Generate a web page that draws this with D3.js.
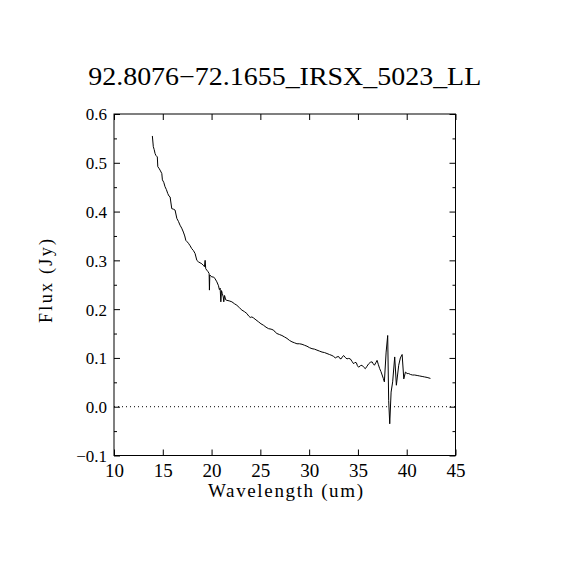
<!DOCTYPE html>
<html>
<head>
<meta charset="utf-8">
<script src="https://cdn.jsdelivr.net/npm/d3@7"></script>
<style>
  html, body { margin: 0; padding: 0; background: #fff; }
  svg { display: block; }
  text { font-family: "Liberation Serif", "DejaVu Serif", serif; fill: #000; }
</style>
</head>
<body>
<svg id="chart" width="570" height="570"></svg>
<script>
const titleText = "92.8076\u221272.1655_IRSX_5023_LL";
const xLabel = "Wavelength (um)";
const yLabel = "Flux (Jy)";
const xTicks = [10, 15, 20, 25, 30, 35, 40, 45];
const yTicks = [-0.1, 0.0, 0.1, 0.2, 0.3, 0.4, 0.5, 0.6];
const yMinorTicks = [-0.05, 0.05, 0.15, 0.25, 0.35, 0.45, 0.55];
const wavelength = [13.93, 14.03, 14.12, 14.21, 14.30, 14.44, 14.49, 14.60, 14.72, 14.90, 14.96, 15.10, 15.23, 15.37, 15.51, 15.63, 15.75, 15.92, 16.08, 16.26, 16.44, 16.60, 16.77, 16.94, 17.11, 17.25, 17.36, 17.50, 17.63, 17.80, 17.97, 18.14, 18.31, 18.49, 18.65, 18.82, 19.00, 19.15, 19.27, 19.34, 19.40, 19.51, 19.63, 19.75, 19.78, 19.82, 19.92, 20.03, 20.20, 20.37, 20.54, 20.71, 20.80, 20.88, 20.95, 21.02, 21.10, 21.20, 21.25, 21.33, 21.45, 21.57, 21.80, 22.08, 22.35, 22.59, 22.85, 23.11, 23.36, 23.62, 23.80, 23.96, 24.13, 24.30, 24.55, 24.81, 25.06, 25.32, 25.58, 25.84, 26.10, 26.35, 26.52, 26.70, 26.95, 27.21, 27.47, 27.73, 27.98, 28.24, 28.50, 28.75, 29.01, 29.27, 29.52, 29.78, 30.04, 30.29, 30.55, 30.80, 31.06, 31.32, 31.57, 31.83, 32.08, 32.34, 32.51, 32.68, 32.85, 33.02, 33.14, 33.27, 33.40, 33.53, 33.70, 33.88, 34.05, 34.22, 34.39, 34.56, 34.70, 34.84, 34.95, 35.07, 35.25, 35.42, 35.59, 35.76, 35.93, 36.10, 36.27, 36.45, 36.57, 36.69, 36.83, 36.96, 37.10, 37.23, 37.36, 37.48, 37.60, 37.71, 37.89, 38.05, 38.15, 38.26, 38.40, 38.56, 38.77, 38.94, 39.18, 39.35, 39.53, 39.70, 39.87, 40.04, 40.20, 40.40, 40.60, 40.82, 41.07, 41.33, 41.58, 41.84, 42.09, 42.43];
const flux = [0.555, 0.533, 0.527, 0.519, 0.515, 0.512, 0.492, 0.489, 0.485, 0.478, 0.465, 0.460, 0.451, 0.445, 0.437, 0.432, 0.430, 0.406, 0.405, 0.403, 0.386, 0.380, 0.372, 0.366, 0.358, 0.350, 0.341, 0.338, 0.335, 0.330, 0.324, 0.320, 0.314, 0.300, 0.297, 0.295, 0.293, 0.290, 0.287, 0.300, 0.283, 0.280, 0.277, 0.273, 0.239, 0.270, 0.268, 0.266, 0.266, 0.262, 0.256, 0.248, 0.240, 0.243, 0.215, 0.238, 0.232, 0.225, 0.215, 0.228, 0.219, 0.218, 0.217, 0.215, 0.211, 0.208, 0.203, 0.198, 0.195, 0.191, 0.186, 0.183, 0.184, 0.182, 0.178, 0.174, 0.170, 0.167, 0.163, 0.160, 0.159, 0.157, 0.153, 0.150, 0.148, 0.146, 0.143, 0.140, 0.136, 0.133, 0.131, 0.129, 0.129, 0.128, 0.126, 0.124, 0.121, 0.119, 0.118, 0.116, 0.114, 0.112, 0.111, 0.109, 0.107, 0.105, 0.103, 0.100, 0.102, 0.103, 0.099, 0.098, 0.102, 0.105, 0.101, 0.098, 0.099, 0.098, 0.093, 0.088, 0.091, 0.090, 0.084, 0.081, 0.084, 0.085, 0.081, 0.078, 0.083, 0.088, 0.091, 0.092, 0.088, 0.085, 0.090, 0.095, 0.086, 0.078, 0.072, 0.065, 0.058, 0.051, 0.112, 0.146, 0.013, -0.035, 0.030, 0.051, 0.102, 0.044, 0.085, 0.100, 0.107, 0.057, 0.071, 0.068, 0.068, 0.066, 0.065, 0.065, 0.064, 0.063, 0.062, 0.061, 0.060, 0.058];

const svg = d3.select("#chart");
const L = 114, R = 455.5, T = 114, B = 455.5;
const x = d3.scaleLinear().domain([10, 45]).range([L, R]);
const y = d3.scaleLinear().domain([-0.1, 0.6]).range([B, T]);

// zero dotted line
svg.append("line")
  .attr("x1", x(10)).attr("x2", x(45))
  .attr("y1", y(0)).attr("y2", y(0))
  .attr("stroke", "#000").attr("stroke-width", 1)
  .attr("stroke-dasharray", "1,3");

// spectrum
const pts = wavelength.map((w, i) => [w, flux[i]]);
svg.append("path")
  .datum(pts)
  .attr("fill", "none")
  .attr("stroke", "#000")
  .attr("stroke-width", 1)
  .attr("d", d3.line().x(d => x(d[0])).y(d => y(d[1])));

const tickAxis = (axis) => (g) => {
  g.call(axis);
  g.select(".domain").remove();
  g.selectAll("line").attr("stroke", "#000").attr("stroke-width", 1);
};

// bottom
svg.append("g").attr("transform", `translate(0,${B})`)
  .call(tickAxis(d3.axisBottom(x).tickValues(xTicks).tickSize(-6).tickFormat(d3.format("d"))))
  .selectAll("text").attr("dy", null).attr("y", 21).style("font-size", "19px").attr("font-family", null);
// top
svg.append("g").attr("transform", `translate(0,${T})`)
  .call(tickAxis(d3.axisTop(x).tickValues(xTicks).tickSize(-6).tickFormat("")));
// left major
svg.append("g").attr("transform", `translate(${L},0)`)
  .call(tickAxis(d3.axisLeft(y).tickValues(yTicks).tickSize(-6)
    .tickFormat(d => d3.format(".1f")(d).replace("-", "\u2212"))))
  .selectAll("text").attr("x", -7).attr("dy", "0.35em").style("font-size", "17px").attr("font-family", null);
// left minor
svg.append("g").attr("transform", `translate(${L},0)`)
  .call(tickAxis(d3.axisLeft(y).tickValues(yMinorTicks).tickSize(-3).tickFormat("")));
// right
svg.append("g").attr("transform", `translate(${R},0)`)
  .call(tickAxis(d3.axisRight(y).tickValues(yTicks).tickSize(-6).tickFormat("")));
svg.append("g").attr("transform", `translate(${R},0)`)
  .call(tickAxis(d3.axisRight(y).tickValues(yMinorTicks).tickSize(-3).tickFormat("")));

svg.selectAll(".tick text").attr("fill", "#000");

// frame
svg.append("rect")
  .attr("x", L).attr("y", T).attr("width", R - L).attr("height", B - T)
  .attr("fill", "none").attr("stroke", "#000").attr("stroke-width", 1);

// title
svg.append("text")
  .attr("x", (L + R) / 2).attr("y", 85)
  .attr("text-anchor", "middle")
  .style("font-size", "25px")
  .attr("textLength", 393).attr("lengthAdjust", "spacingAndGlyphs")
  .text(titleText);

// x label
svg.append("text")
  .attr("x", 285.5).attr("y", 497)
  .attr("text-anchor", "middle")
  .style("font-size", "19px")
  .attr("textLength", 155).attr("lengthAdjust", "spacing")
  .text(xLabel);

// y label
svg.append("text")
  .attr("transform", `translate(52,281) rotate(-90)`)
  .attr("text-anchor", "middle")
  .style("font-size", "18px")
  .attr("textLength", 84).attr("lengthAdjust", "spacing")
  .text(yLabel);
</script>
</body>
</html>
